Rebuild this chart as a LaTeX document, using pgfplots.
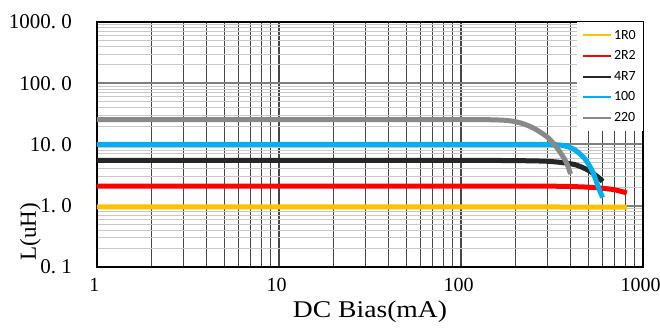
\documentclass[border=0pt]{standalone}
\usepackage{graphicx}
\usepackage{fontspec}
\setmainfont{Liberation Serif}
\newfontfamily\legfont{Carlito}
\usepackage{pgfplots}
\pgfplotsset{compat=1.18}
\definecolor{cYel}{RGB}{255,192,0}
\definecolor{cRed}{RGB}{255,0,0}
\definecolor{cBlk}{RGB}{38,38,38}
\definecolor{cBlu}{RGB}{0,176,240}
\definecolor{cGry}{RGB}{137,137,137}
\definecolor{vgrid}{RGB}{70,70,70}
\definecolor{hminor}{RGB}{200,200,200}
\definecolor{hmajor}{RGB}{128,128,128}
\begin{document}
\begin{tikzpicture}
\begin{axis}[
  scale only axis, width=546pt, height=245pt,
  xmode=log, ymode=log,
  xmin=1, xmax=1000, ymin=0.1, ymax=1000,
  xtick={1,10,100,1000},
  xticklabels={1,10,100,1000},
  ytick={0.1,1,10,100,1000},
  yticklabels={0.\hspace{0.25em}1,1.\hspace{0.25em}0,10.\hspace{0.25em}0,100.\hspace{0.25em}0,1000.\hspace{0.25em}0},
  minor xtick={2,3,4,5,6,7,8,9,20,30,40,50,60,70,80,90,200,300,400,500,600,700,800,900},
  minor ytick={0.2,0.3,0.4,0.5,0.6,0.7,0.8,0.9,2,3,4,5,6,7,8,9,20,30,40,50,60,70,80,90,200,300,400,500,600,700,800,900},
  major tick length=0pt, minor tick length=0pt,
  xmajorgrids, xminorgrids, ymajorgrids, yminorgrids,
  major x grid style={vgrid, line width=1.3pt},
  minor x grid style={vgrid, line width=1.3pt},
  minor y grid style={hminor, line width=1pt},
  major y grid style={hmajor, line width=2pt},
  axis line style={black, line width=1.6pt},
  yticklabel style={font=\fontsize{21}{24}\selectfont, anchor=east, inner sep=0pt, xshift=-25pt},
  xticklabel style={font=\fontsize{20}{24}\selectfont, anchor=north, inner sep=0pt, yshift=-11pt, xshift=-2.5pt},
  xlabel={\scalebox{1.15}[1]{DC Bias(mA)}},
  xlabel style={font=\fontsize{24}{28}\selectfont, at={(axis description cs:0.5,-0.184)}, anchor=center},
  ylabel={L(uH)},
  ylabel style={font=\fontsize{23}{26}\selectfont, at={(axis description cs:-0.122,0.143)}, anchor=center, rotate=0},
  legend style={at={(rel axis cs:1,1)}, anchor=north east, draw=none, fill=white,
    font=\legfont\fontsize{14}{16}\selectfont, row sep=6pt, inner xsep=5pt, inner ysep=6pt,
    cells={anchor=west}},
  legend image code/.code={\draw[#1, line width=2pt] (0pt,0pt) -- (28pt,0pt);},
  every axis plot/.append style={line width=5pt},
]
\addplot[cYel] coordinates {(1,0.96) (100,0.96) (815,0.95)};
\addlegendentry{1R0}
\addplot[cRed, smooth] coordinates {(1,2.1) (200,2.1) (300,2.09) (400,2.06) (500,2.01) (600,1.93) (700,1.82) (815,1.62)};
\addlegendentry{2R2}
\addplot[cBlk, smooth] coordinates {(1,5.5) (100,5.5) (250,5.4) (330,5.2) (421,4.7) (500,3.8) (565,2.95) (600,2.5)};
\addlegendentry{4R7}
\addplot[cBlu, smooth] coordinates {(1,10) (100,10) (300,10) (370,9.5) (421,8.2) (480,5.8) (531,3.5) (565,2.1) (600,1.36)};
\addlegendentry{100}
\addplot[cGry, smooth] coordinates {(1,25.5) (60,25.5) (150,25.3) (200,23.5) (246,19) (300,13) (342,8.3) (379,5.1) (400,3.3)};
\addlegendentry{220}
\coordinate (sw) at (rel axis cs:0,0);
\end{axis}
\pgfresetboundingbox
\path[use as bounding box] ([xshift=-97pt,yshift=-61pt]sw) rectangle ++(660pt,328pt);
\end{tikzpicture}
\end{document}
